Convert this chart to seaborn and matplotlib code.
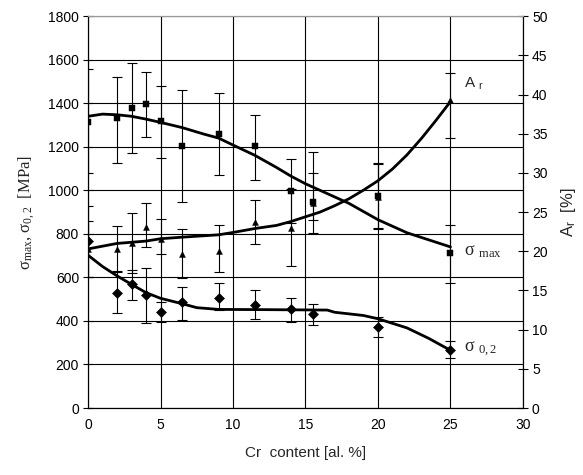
import numpy as np
import pandas as pd
import seaborn as sns
import matplotlib.pyplot as plt

# measured points (Cr content, al. %)
cr = [0, 2, 3, 4, 5, 6.5, 9, 11.5, 14, 15.5, 20, 25]

# sigma max [MPa]
smax = [1315, 1330, 1380, 1397, 1318, 1203, 1257, 1203, 996, 946, 973, 711]
smax_hi = [1558, 1521, 1585, 1543, 1481, 1460, 1447, 1344, 1143, 1177, 1125, 841]
smax_lo = [1078, 1127, 1170, 1243, 1150, 946, 1069, 1047, 851, 864, 825, 576]

# sigma 0,2 [MPa]
s02 = [765, 530, 568, 518, 440, 486, 506, 473, 453, 430, 373, 265]
s02_hi = [927, 627, 633, 642, 486, 557, 576, 540, 504, 479, 420, 306]
s02_lo = [603, 437, 497, 390, 394, 406, 452, 411, 396, 380, 327, 230]

# elongation Ar [%]
ar = [20.3, 20.3, 21.0, 23.1, 21.6, 19.6, 20.0, 23.7, 23.0, 26.1, 26.9, 39.3]
ar_hi = [23.9, 23.2, 24.9, 26.2, 24.1, 22.8, 23.3, 26.5, 28.0, 30.0, 31.1, 42.8]
ar_lo = [16.7, 17.5, 17.2, 20.5, 19.7, 16.6, 17.3, 20.9, 18.1, 22.3, 22.9, 34.5]

# trend curves
smax_fit_x = [0, 1, 2, 3, 4, 5, 6.5, 8, 9, 10, 11.5, 13, 14, 15, 16, 17, 18, 20, 22, 25]
smax_fit_y = [1340, 1350, 1347, 1340, 1327, 1312, 1288, 1258, 1240, 1208, 1161, 1105,
              1065, 1030, 1000, 970, 940, 865, 805, 740]

s02_fit_x = [0, 1, 2, 3, 4, 5, 6.5, 7.5, 9, 12, 16.5, 17, 19, 20, 22, 23.5, 25]
s02_fit_y = [702, 650, 607, 568, 530, 504, 479, 461, 453, 452, 450, 440, 425, 410, 368, 320, 265]

ar_fit_x = [0, 2, 4, 5, 6.5, 9, 10, 11.5, 13, 14, 15, 16, 17, 18, 19, 20, 21, 22, 23, 24, 25]
ar_fit_y = [20.3, 21.0, 21.3, 21.6, 21.8, 22.1, 22.4, 22.9, 23.3, 23.8, 24.4, 25.0,
            25.8, 26.7, 27.8, 29.0, 30.5, 32.3, 34.4, 36.7, 39.1]

sns.set_style('white')
plt.rcParams['font.family'] = ['Liberation Sans', 'DejaVu Sans']
plt.rcParams['mathtext.fontset'] = 'custom'
plt.rcParams['mathtext.rm'] = 'Liberation Serif'
plt.rcParams['mathtext.it'] = 'Liberation Serif:italic'
plt.rcParams['mathtext.sf'] = 'Liberation Sans'

fig = plt.figure(figsize=(5.83, 4.75), dpi=100)
ax = fig.add_axes([0.151, 0.141, 0.746, 0.825])
ax2 = ax.twinx()

# grid
ax.set_axisbelow(True)
ax.grid(True, color='black', lw=0.8)

def yerr(vals, hi, lo):
    v = np.array(vals)
    return [v - np.array(lo), np.array(hi) - v]

ebkw = dict(fmt='none', ecolor='black', elinewidth=0.8, capsize=3.5, capthick=0.8)
ax.errorbar(cr, smax, yerr=yerr(smax, smax_hi, smax_lo), **ebkw)
ax.errorbar(cr, s02, yerr=yerr(s02, s02_hi, s02_lo), **ebkw)
ax2.errorbar(cr, ar, yerr=yerr(ar, ar_hi, ar_lo), **ebkw)

sns.lineplot(x=smax_fit_x, y=smax_fit_y, ax=ax, color='black', lw=2, sort=False, estimator=None)
sns.lineplot(x=s02_fit_x, y=s02_fit_y, ax=ax, color='black', lw=2, sort=False, estimator=None)
sns.lineplot(x=ar_fit_x, y=ar_fit_y, ax=ax2, color='black', lw=2, sort=False, estimator=None)

sns.scatterplot(x=cr, y=smax, ax=ax, marker='s', s=16, color='black', edgecolor='black', zorder=5)
sns.scatterplot(x=cr, y=s02, ax=ax, marker='D', s=26, color='black', edgecolor='black', zorder=5)
sns.scatterplot(x=cr, y=ar, ax=ax2, marker='^', s=18, color='black', edgecolor='black', zorder=5)

ax.set_xlim(0, 30)
ax.set_ylim(0, 1800)
ax2.set_ylim(0, 50)
ax.set_xticks(range(0, 31, 5))
ax.set_yticks(range(0, 1801, 200))
ax2.set_yticks(range(0, 51, 5))

for a in (ax, ax2):
    a.tick_params(direction='inout', length=7, width=0.8, labelsize=10, colors='black')
    for s in a.spines.values():
        s.set_color('black')
        s.set_linewidth(0.8)
    a.spines['top'].set_color('#999999')
ax.tick_params(axis='y', pad=3)
ax2.tick_params(axis='y', pad=3)

ax.set_xlabel('Cr  content [al. %]', fontsize=11, labelpad=10)
ax.set_ylabel(r'σ$_{\rm max}$, σ$_{0,2}$  [MPa]', fontsize=12,
              family='Liberation Serif', labelpad=8)
ax2.set_ylabel(r'A$_{\mathsf{r}}$  [%]', fontsize=12, rotation=90, labelpad=8)

# curve labels
ax.text(25.9, 1488, r'A $_{\mathsf{r}}$', fontsize=11, va='center', ha='left')
ax.text(25.9, 718, r'σ $_{\rm max}$', fontsize=13, va='center', ha='left',
        family='Liberation Serif')
ax.text(25.9, 268, r'σ $_{\rm 0,2}$', fontsize=13, va='center', ha='left',
        family='Liberation Serif')

fig.savefig('out.png', dpi=100)
